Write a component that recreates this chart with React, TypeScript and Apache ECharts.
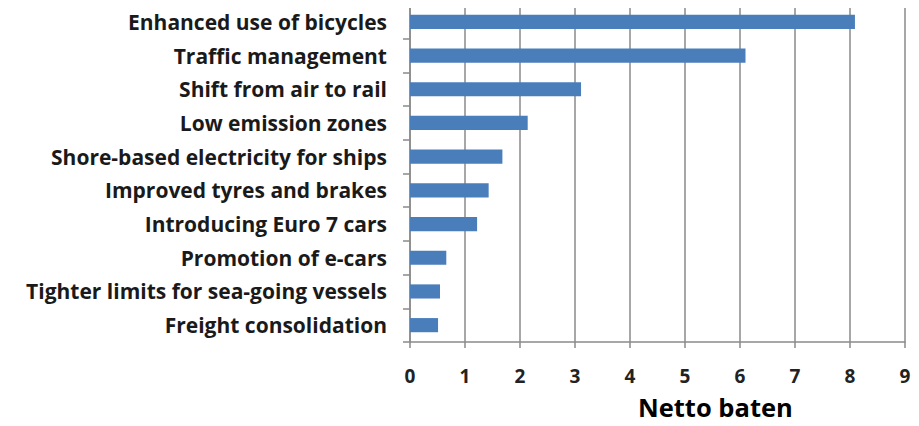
import React, { useEffect, useRef } from "react";
import * as echarts from "echarts";

const categories = [
  "Enhanced use of bicycles",
  "Traffic management",
  "Shift from air to rail",
  "Low emission zones",
  "Shore-based electricity for ships",
  "Improved tyres and brakes",
  "Introducing Euro 7 cars",
  "Promotion of e-cars",
  "Tighter limits for sea-going vessels",
  "Freight consolidation",
];

const values = [8.09, 6.1, 3.11, 2.14, 1.68, 1.43, 1.22, 0.66, 0.545, 0.51];

const xTicks = [0, 1, 2, 3, 4, 5, 6, 7, 8, 9];

const axisTitle = "Netto baten";

const FONT = "Open Sans";

export default function App() {
  const ref = useRef<HTMLDivElement>(null);

  useEffect(() => {
    if (!ref.current) return;
    const chart = echarts.init(ref.current, null, { renderer: "svg" });
    chart.setOption({
      animation: false,
      backgroundColor: "#ffffff",
      grid: { left: 410, right: 14, top: 5, bottom: 84, containLabel: false },
      xAxis: {
        type: "value",
        min: xTicks[0],
        max: xTicks[xTicks.length - 1],
        interval: 1,
        axisLine: { show: true, lineStyle: { color: "#8a8a8a", width: 1.5 } },
        axisTick: { show: true, length: 6, lineStyle: { color: "#8a8a8a", width: 1.5 } },
        splitLine: { show: true, lineStyle: { color: "#8a8a8a", width: 1.5 } },
        axisLabel: {
          margin: 24,
          fontFamily: FONT,
          fontWeight: "bold",
          fontSize: 19,
          color: "#222222",
        },
      },
      yAxis: {
        type: "category",
        data: categories,
        inverse: true,
        axisLine: { show: true, lineStyle: { color: "#8a8a8a", width: 1.5 } },
        axisTick: { show: true, length: 7, lineStyle: { color: "#8a8a8a", width: 1.5 } },
        splitLine: { show: false },
        axisLabel: {
          margin: 23,
          fontFamily: FONT,
          fontWeight: "bold",
          fontSize: 21,
          color: "#1a1a1a",
        },
      },
      series: [
        {
          type: "bar",
          data: values,
          barCategoryGap: "58%",
          itemStyle: { color: "#4a7ebb" },
        },
      ],
      graphic: [
        {
          type: "text",
          left: 638,
          top: 394,
          style: {
            text: axisTitle,
            fontFamily: FONT,
            fontWeight: "bold",
            fontSize: 25.5,
            fill: "#000000",
          },
        },
      ],
    });
    return () => chart.dispose();
  }, []);

  return <div ref={ref} style={{ width: 919, height: 426, margin: -8 }} />;
}
